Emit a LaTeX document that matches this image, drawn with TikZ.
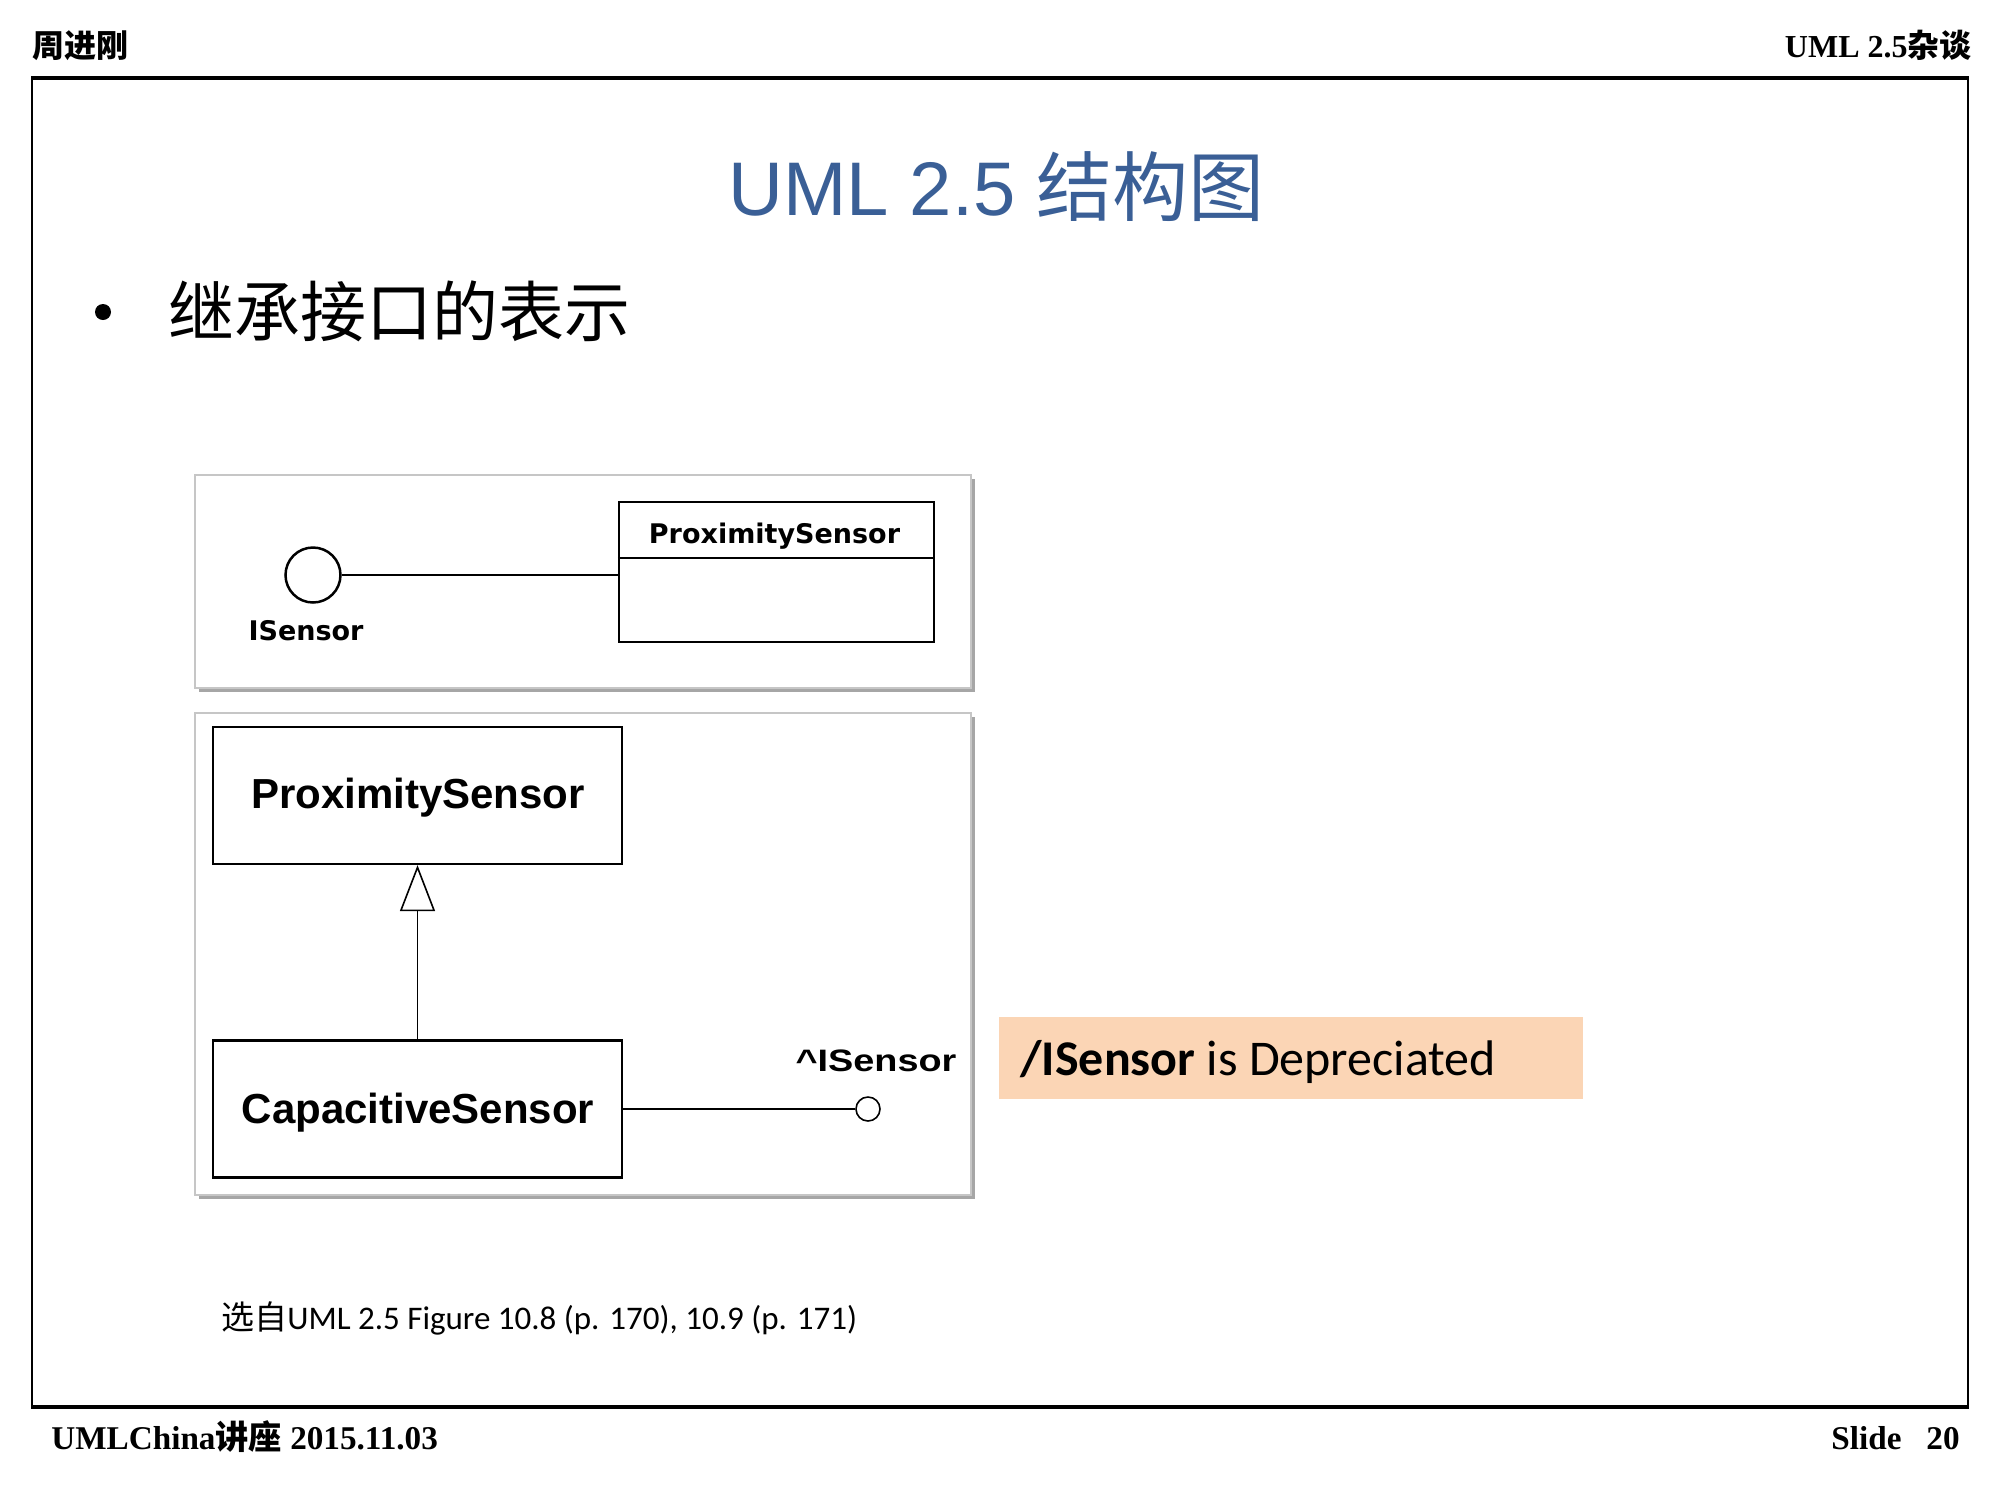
\documentclass[tikz,border=0pt]{standalone}
\usepackage{fontspec}
\usepackage{graphicx}
\setmainfont{Liberation Serif}
\newfontfamily\cjk{Noto Sans CJK SC}
\newfontfamily\arialf{Liberation Sans}
\newfontfamily\dejaf{DejaVu Sans}
\newfontfamily\calif{Carlito}
\usetikzlibrary{arrows.meta,shadows}
\definecolor{titleblue}{HTML}{3A5F96}
\definecolor{notefill}{HTML}{FBD5B5}
\begin{document}
\begin{tikzpicture}[x=0.5pt,y=-0.5pt,
  hdr/.style={font=\fontsize{16pt}{19pt}\selectfont\bfseries, inner sep=0pt},
  ftr/.style={font=\fontsize{16.6pt}{19pt}\selectfont\bfseries, inner sep=0pt},
  panel/.style={draw=gray!45, line width=1pt, fill=white,
    drop shadow={shadow xshift=2pt, shadow yshift=-2pt, opacity=0.35, fill=black}},
  classA/.style={draw, line width=1.25pt, inner sep=0pt},
  nameA/.style={font=\dejaf\bfseries\fontsize{13.5pt}{16pt}\selectfont, inner sep=0pt, anchor=base},
  classB/.style={draw, line width=1.1pt, inner sep=0pt, minimum width=204.5pt, minimum height=68.5pt},
  nameB/.style={font=\arialf\bfseries\fontsize{21pt}{25pt}\selectfont, inner sep=0pt, anchor=base},
  connA/.style={line width=1.25pt},
  connB/.style={line width=0.8pt},
]
\useasboundingbox (0,0) rectangle (2000,1500);
\fill[white] (0,0) rectangle (2000,1500);

% header and footer
\node[hdr, anchor=base west] (hleft) at (32,57) {\cjk\bfseries 周进刚};
\node[hdr, anchor=base east] (hright) at (1972,57) {UML 2.5{\cjk\bfseries 杂谈}};
\node[ftr, anchor=base west] (fleft) at (51,1449) {UMLChina{\cjk\bfseries 讲座} 2015.11.03};
\node[ftr, anchor=base east] (fright) at (1960,1449) {Slide\ \ \ 20};

% frame
\draw[line width=1.25pt] (32,78) rectangle (1968,1407);
\draw[line width=2pt] (31,78) -- (1969,78);
\draw[line width=2pt] (31,1407) -- (1969,1407);

% title
\node[anchor=base west, inner sep=0pt, text=titleblue,
      font=\arialf\fontsize{38pt}{44pt}\selectfont] (title) at (728,215)
      {UML 2.5 {\cjk 结构图}};

% bullet
\fill (103,312) circle (8);
\node[anchor=base west, inner sep=0pt, font=\cjk\fontsize{33pt}{38pt}\selectfont] (bullet) at (168,336)
      {继承接口的表示};

% panels
\node[panel, minimum width=388pt, minimum height=106.5pt, inner sep=0pt] (pan1) at (583,581.5) {};
\node[panel, minimum width=388pt, minimum height=241pt, inner sep=0pt] (pan2) at (583,954) {};

% top diagram
\node[classA, minimum width=157.5pt, minimum height=70pt] (ps1) at (776.5,572) {};
\draw[connA] ([yshift=-28.5pt]ps1.north west) -- ([yshift=-28.5pt]ps1.north east);
\node[nameA] (ps1name) at (774.5,543) {ProximitySensor};
\node[circle, draw, line width=1.25pt, minimum size=27.5pt, inner sep=0pt] (isc) at (313,575) {};
\draw[connA] (isc.east) -- (isc.east -| ps1.west);
\node[nameA] (isclabel) at (306,640) {ISensor};

% bottom diagram
\node[classB] (ps2) at (417.5,795.5) {};
\node[nameB] (ps2name) at (418,808) {ProximitySensor};
\node[classB] (cs) at (417.5,1109) {};
\node[nameB] (csname) at (418,1123) {CapacitiveSensor};
\draw[connB, -{Triangle[open, width=17.5pt, length=23pt]}] (cs.north) -- (ps2.south);
\node[circle, draw, line width=0.8pt, minimum size=12pt, inner sep=0pt] (lp) at (868,1109) {};
\draw[connB] (cs.east) -- (lp.west);
\node[anchor=base, inner sep=0pt, font=\arialf\bfseries\fontsize{15.5pt}{18pt}\selectfont] (lplabel) at (876,1071)
      {\scalebox{1.22}[1]{\^{}ISensor}};

% note
\node[fill=notefill, minimum width=292pt, minimum height=41pt, inner sep=0pt, anchor=north west] (note) at (999,1017) {};
\node[anchor=base west, inner sep=0pt, font=\calif\fontsize{25pt}{30pt}\selectfont] (notetext) at (1020,1075)
      {\textbf{/ISensor} is Depreciated};

% caption
\node[anchor=base west, inner sep=0pt, font=\calif\fontsize{16.5pt}{19pt}\selectfont] (caption) at (221,1329)
      {{\cjk 选自}UML 2.5 Figure 10.8 (p. 170), 10.9 (p. 171)};
\end{tikzpicture}
\end{document}
